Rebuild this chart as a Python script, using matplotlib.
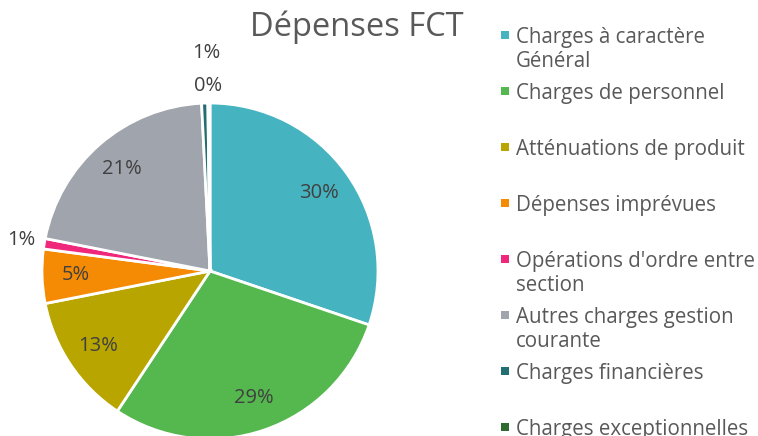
import matplotlib
matplotlib.use("Agg")
import matplotlib.pyplot as plt
import numpy as np
from matplotlib.patches import Rectangle

categories = ["Charges à caractère\nGénéral", "Charges de personnel", "Atténuations de produit",
              "Dépenses imprévues", "Opérations d'ordre entre\nsection",
              "Autres charges gestion\ncourante", "Charges financières", "Charges exceptionnelles"]
values = [30.2, 29.1, 12.6, 5.2, 1.0, 21.1, 0.6, 0.2]
colors = ["#46B3C0", "#55B84F", "#B8A500", "#F58A05", "#F0287C", "#A0A4AD", "#236E70", "#2E6B30"]
label_dist = [0.8, 0.8, 0.8, 0.8, 1.14, 0.8, 1.3, 1.1]

plt.rcParams['font.family'] = ['Open Sans', 'DejaVu Sans']
fig = plt.figure(figsize=(7.58, 4.36), dpi=100)
ax = fig.add_axes([0.0554, -0.0069, 0.4433, 0.7706])
wedges, texts, autotexts = ax.pie(values, colors=colors, startangle=90, counterclock=False,
                                  autopct='%.0f%%', pctdistance=0.8,
                                  wedgeprops=dict(edgecolor='white', linewidth=2),
                                  textprops=dict(fontsize=14.5, color='#404040'))
for w, t, d in zip(wedges, autotexts, label_dist):
    ang = np.deg2rad((w.theta1 + w.theta2) / 2)
    t.set_position((d * np.cos(ang), d * np.sin(ang)))
autotexts[6].set_position((-0.02, 1.3))
autotexts[7].set_position((-0.01, 1.1))
ax.set_xlim(-1, 1); ax.set_ylim(-1, 1)
ax.set_aspect('equal')
ax.axis('off')

fig.text(357/758, 1 - 36/436, "Dépenses FCT", fontsize=23.5, color='#595959',
         ha='center', va='baseline')

for i, (lab, c) in enumerate(zip(categories, colors)):
    base = 43 + 56 * i
    fig.patches.append(Rectangle((501 / 758, 1 - (base - 4) / 436), 8 / 758, 8 / 436,
                                 transform=fig.transFigure, facecolor=c, edgecolor='none'))
    for j, line in enumerate(lab.split("\n")):
        fig.text(516 / 758, 1 - (base + 24 * j) / 436, line, fontsize=14.8, color='#595959',
                 ha='left', va='baseline')

fig.savefig("out.png", dpi=100)
